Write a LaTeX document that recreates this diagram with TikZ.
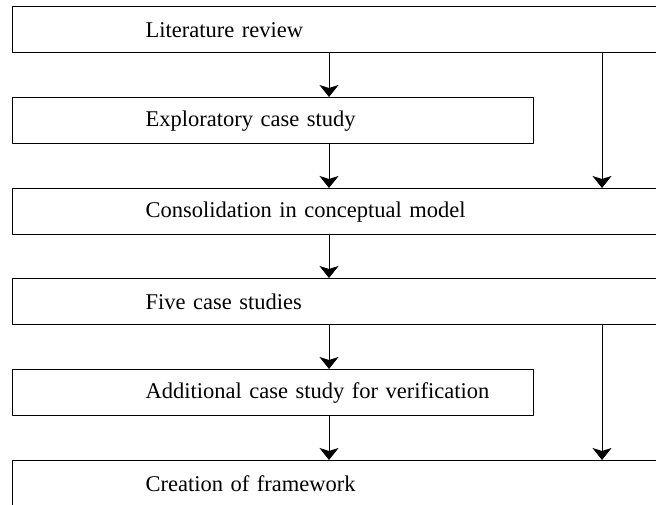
\documentclass[tikz,border=0pt]{standalone}
\usepackage{fontspec}
\setmainfont{Liberation Serif}
\usetikzlibrary{arrows.meta}

\begin{document}
\begin{tikzpicture}[x=1pt, y=-1pt, line join = round, >={Stealth[length=12pt, width=19pt, inset=3pt]}]
\tikzstyle{stage}=[draw=black, line width=1.4pt, rectangle, anchor=north west, minimum height=46pt, inner xsep=0pt, align=left, font=\fontsize{22.5pt}{27pt}\selectfont]
\tikzstyle{wide}=[stage, text width=650pt]
\tikzstyle{narrow}=[stage, text width=521pt]
\tikzstyle{flow}=[line width=1pt, ->, color=black]
\useasboundingbox (0,0) rectangle (656,504);
\node[wide]   (lit)  at (12,6)   {\hspace*{133pt}Literature review};
\node[narrow] (expl) at (12,97)  {\hspace*{133pt}Exploratory case study};
\node[wide]   (cons) at (12,188) {\hspace*{133pt}Consolidation in conceptual model};
\node[wide]   (five) at (12,278) {\hspace*{133pt}Five case studies};
\node[narrow] (add)  at (12,369) {\hspace*{133pt}Additional case study for verification};
\node[wide]   (frame) at (12,460) {\hspace*{133pt}Creation of framework};
\coordinate (mid) at (329,0);
\coordinate (side) at (602,0);

\draw[flow] (lit.south -| mid) -- (expl.north -| mid);
\draw[flow] (expl.south -| mid) -- (cons.north -| mid);
\draw[flow] (cons.south -| mid) -- (five.north -| mid);
\draw[flow] (five.south -| mid) -- (add.north -| mid);
\draw[flow] (add.south -| mid) -- (frame.north -| mid);
\draw[flow] (lit.south -| side) -- (cons.north -| side);
\draw[flow] (five.south -| side) -- (frame.north -| side);
\end{tikzpicture}
\end{document}
